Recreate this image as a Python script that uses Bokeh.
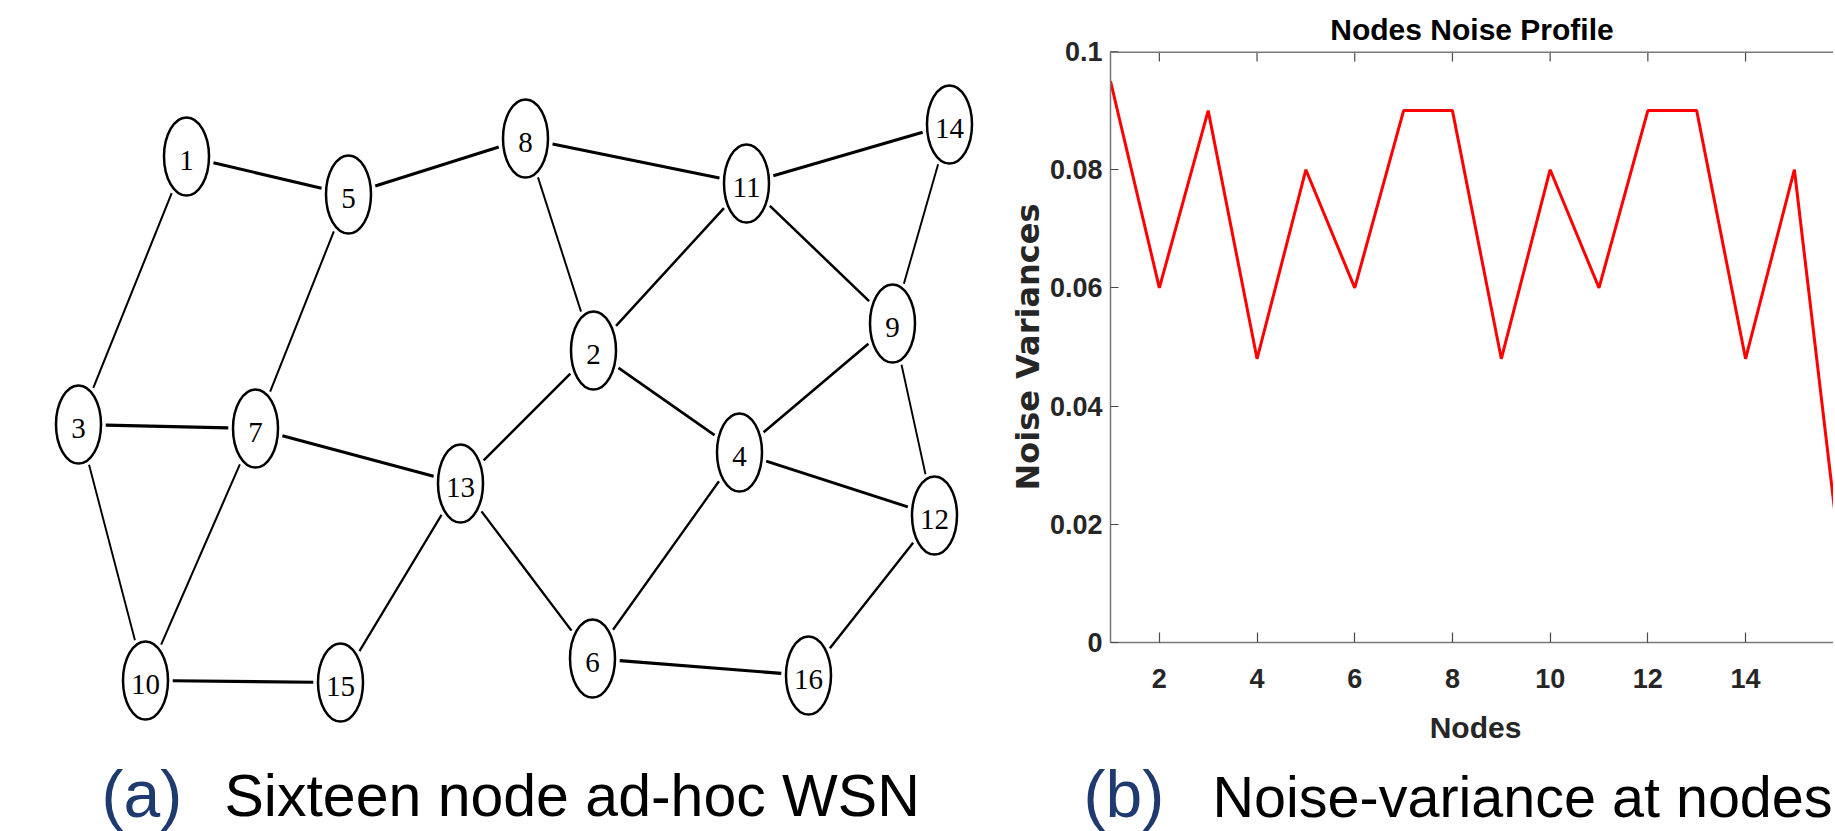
import numpy as np
from bokeh.plotting import figure
from bokeh.models import Range1d, Label, FixedTicker, ColumnDataSource, Span
from bokeh.layouts import row, column
from bokeh.embed import file_html
from bokeh.resources import INLINE
from bokeh.core.properties import value

# ---------------- data: panel (a) ad-hoc WSN graph ----------------
node_ids = list(range(1, 17))
node_x = [186, 593, 78, 739, 348, 592, 255, 525, 892, 145, 746, 934, 460, 949, 340, 808]
node_y = [156, 350, 424, 452, 194, 658, 428, 138, 323, 680, 183, 515, 483, 124, 682, 675]
edges = [(1, 5), (5, 8), (8, 11), (11, 14), (1, 3), (5, 7), (8, 2), (11, 2), (11, 9),
         (14, 9), (3, 7), (7, 13), (13, 2), (2, 4), (4, 9), (9, 12), (4, 12), (3, 10),
         (7, 10), (10, 15), (15, 13), (13, 6), (6, 4), (6, 16), (16, 12)]

# ---------------- data: panel (b) noise variances ----------------
nodes = list(range(1, 17))
noise_var = [0.095, 0.06, 0.09, 0.048, 0.08, 0.06, 0.09, 0.09, 0.048, 0.08,
             0.06, 0.09, 0.09, 0.048, 0.08, 0.01]
x_ticks = [2, 4, 6, 8, 10, 12, 14, 16]
y_ticks = [0, 0.02, 0.04, 0.06, 0.08, 0.1]
y_tick_labels = ["0", "0.02", "0.04", "0.06", "0.08", "0.1"]

# ---------------- style ----------------
ELL_W, ELL_H, ELL_LW = 45, 78, 2.5
GAP = 3.5
STRETCH = 1.72
W0 = 1.8
BOLDF = "Liberation Sans"
CAP_FONT = "Liberation Sans"
AXIS_GRAY = "#7a7a7a"
TICK_GRAY = "#4a4a4a"
TXT = "#262626"
BLUE = "#1f3a6e"
MID = 0.356   # baseline sits this many em below a vertically centred label's anchor

# page geometry (page px; Bokeh's page template has no body margin)
PAGE_R, PAGE_B = 1833, 831
SPLIT_X = 990          # left edge of panel (b)
CAP_TOP = 705          # top of the text strip under panel (b)
FRAME_L, FRAME_T, FRAME_B = 1110, 51, 642   # panel (b) plot frame
px_per_node = 48.85
CAP_BASE = 817


def blank(fig):
    fig.grid.visible = False
    fig.outline_line_color = None
    return fig


def canvas_fig(x0, x1, y0, y1):
    return blank(figure(width=x1 - x0, height=y1 - y0,
                        x_range=Range1d(x0, x1), y_range=Range1d(y1, y0),
                        output_backend="svg", toolbar_location=None, min_border=0,
                        x_axis_location=None, y_axis_location=None, frame_align=False))


def text_label(x, baseline, text, size, color, bold=False, align="left"):
    return Label(x=x, y=baseline - MID * size, text=text, text_font=BOLDF if bold else CAP_FONT,
                 text_font_size=f"{size}px", text_font_style="bold" if bold else "normal",
                 text_color=color, text_baseline="middle", text_align=align)


# ================= panel (a) =================
p1 = canvas_fig(0, SPLIT_X, 0, PAGE_B)

pos = {n: (x, y) for n, x, y in zip(node_ids, node_x, node_y)}
a_r = ELL_W / 2 + ELL_LW / 2 + GAP
b_r = ELL_H / 2 + ELL_LW / 2 + GAP
x0s, y0s, x1s, y1s, ws = [], [], [], [], []
for u, v in edges:
    (xu, yu), (xv, yv) = pos[u], pos[v]
    dx, dy = xv - xu, yv - yu
    t = 1.0 / np.sqrt((dx / a_r) ** 2 + (dy / b_r) ** 2)
    x0s.append(xu + t * dx); y0s.append(yu + t * dy)
    x1s.append(xv - t * dx); y1s.append(yv - t * dy)
    ws.append(W0 * STRETCH * np.hypot(dx, dy / STRETCH) / np.hypot(dx, dy))

esrc = ColumnDataSource(dict(x0=x0s, y0=y0s, x1=x1s, y1=y1s, w=ws))
p1.segment("x0", "y0", "x1", "y1", source=esrc, line_color="black", line_width="w")

nsrc = ColumnDataSource(dict(x=node_x, y=node_y, lab=[str(n) for n in node_ids]))
p1.ellipse("x", "y", width=ELL_W, height=ELL_H, source=nsrc, fill_color="white",
           line_color="black", line_width=ELL_LW)
p1.text("x", "y", text="lab", source=nsrc, text_align="center", text_baseline="middle",
        text_font=value("Liberation Serif"), text_font_size="29px", text_color="black",
        y_offset=4)

p1.add_layout(text_label(101, CAP_BASE, "(a)", 66, BLUE))
p1.add_layout(text_label(224, CAP_BASE, "Sixteen node ad-hoc WSN", 59, "black"))

# ================= panel (b) plot =================
p2 = blank(figure(width=PAGE_R - SPLIT_X, height=CAP_TOP,
                  x_range=Range1d(1, 1 + (PAGE_R - FRAME_L) / px_per_node),
                  y_range=Range1d(0, 0.1),
                  output_backend="svg", toolbar_location=None,
                  min_border_left=FRAME_L - SPLIT_X, min_border_right=0,
                  min_border_top=FRAME_T, min_border_bottom=CAP_TOP - FRAME_B,
                  frame_align=False, title="Nodes Noise Profile"))
p2.title.align = "center"
p2.title.text_font = BOLDF
p2.title.text_font_size = "30px"
p2.title.text_font_style = "bold"
p2.title.text_color = "black"
p2.title.standoff = 11

p2.line(nodes, noise_var, line_color="#ff0000", line_width=3)

xa = p2.xaxis[0]
xa.ticker = FixedTicker(ticks=x_ticks)
ya = p2.yaxis[0]
ya.ticker = FixedTicker(ticks=y_ticks)
ya.major_label_overrides = {t: l for t, l in zip(y_ticks, y_tick_labels)}

for ax, tin in ((xa, 10), (ya, 8)):
    ax.major_tick_in = tin
    ax.major_tick_out = 0
    ax.minor_tick_in = 0
    ax.minor_tick_out = 0
    ax.axis_line_color = AXIS_GRAY
    ax.axis_line_width = 1.5
    ax.major_tick_line_color = TICK_GRAY
    ax.major_tick_line_width = 1.2
    ax.major_label_text_font = BOLDF
    ax.major_label_text_font_size = "27px"
    ax.major_label_text_font_style = "bold"
    ax.major_label_text_color = TXT

xa.major_label_standoff = 26
ya.major_label_standoff = 8

ya.axis_label = "Noise Variances"
ya.axis_label_text_font = "DejaVu Sans"
ya.axis_label_text_font_size = "32px"
ya.axis_label_text_font_style = "bold"
ya.axis_label_text_color = TXT
ya.axis_label_standoff = 0

# box top edge with inward ticks (MATLAB "box on")
p2.add_layout(Span(location=0.1, dimension="width", line_color=AXIS_GRAY, line_width=3))
p2.ray(x=x_ticks, y=[0.1] * len(x_ticks), length=10, length_units="screen",
       angle=-np.pi / 2, line_color=TICK_GRAY, line_width=1.2)

# ================= text strip under panel (b): x-axis title and caption =================
cbfig = canvas_fig(SPLIT_X, PAGE_R, CAP_TOP, PAGE_B)
cbfig.add_layout(text_label(1475, 738, "Nodes", 30, TXT, bold=True, align="center"))
cbfig.add_layout(text_label(1083, CAP_BASE, "(b)", 66, BLUE))
cbfig.add_layout(text_label(1212, CAP_BASE, "Noise-variance at nodes", 57.5, "black"))

layout = row(p1, column(p2, cbfig, spacing=0), spacing=0)
open("out.html", "w").write(file_html(layout, INLINE))
